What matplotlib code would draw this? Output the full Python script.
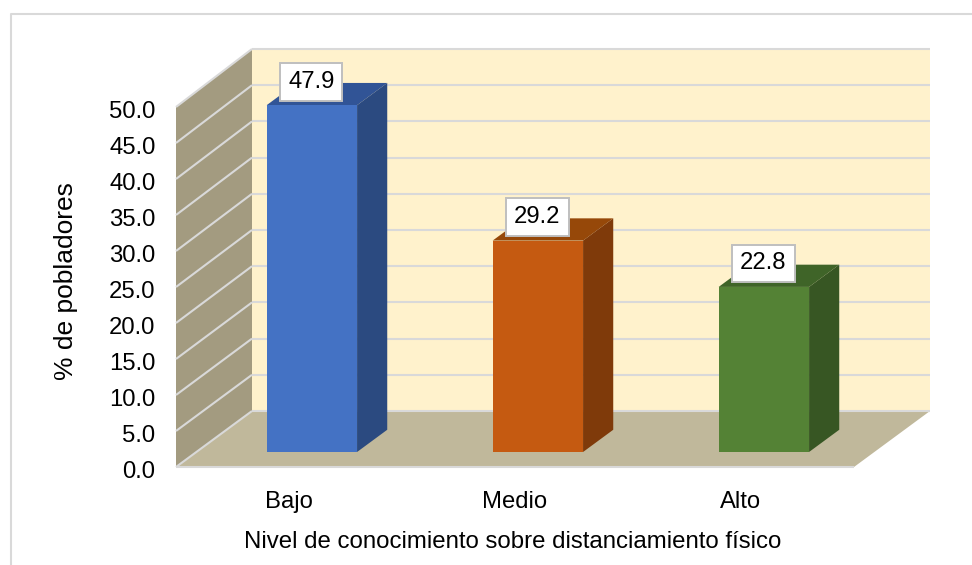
import matplotlib
matplotlib.use("Agg")
import matplotlib.pyplot as plt
from matplotlib.lines import Line2D
from matplotlib.patches import Polygon
from matplotlib.transforms import ScaledTranslation

plt.rcParams['font.family'] = ['Liberation Sans', 'DejaVu Sans']

categories = ["Bajo", "Medio", "Alto"]
values = [47.9, 29.2, 22.8]
front_colors = ["#4472C4", "#C55A11", "#548235"]
top_colors = ["#315496", "#964809", "#3F6428"]
side_colors = ["#2B4A80", "#7F3A0A", "#375623"]
y_ticks = [0, 5, 10, 15, 20, 25, 30, 35, 40, 45, 50]
y_labels = ["0.0", "5.0", "10.0", "15.0", "20.0", "25.0", "30.0", "35.0", "40.0", "45.0", "50.0"]
x_title = "Nivel de conocimiento sobre distanciamiento físico"
y_title = "% de pobladores"

W, H = 972, 565
FS = 17.2
fig = plt.figure(figsize=(W / 100, H / 100), dpi=100, facecolor="white")
ax = fig.add_axes([176 / W, 1 - 467 / H, 678 / W, 360 / H])
ax.set_xlim(0, 3)
ax.set_ylim(0, 50)
ax.patch.set_visible(False)
for s in ax.spines.values():
    s.set_visible(False)

PX_X = 678 / 3   # px per category
PX_Y = 360 / 50  # px per value unit
DX, DY = 76, 56  # px shift of the full depth
BAR_D0, BAR_D1 = 0.268, 0.665
BAR_W = 0.4
BAR_SHIFT = 2.5 / PX_X


def proj(x, v, d):
    """Oblique projection of (category x, value v, depth d) into data coordinates."""
    k = 1.0056 if d > 0 else 1.0
    return (x + d * DX / PX_X, v * k + d * DY / PX_Y)


def poly(pts, color, z, ec="none", lw=0):
    ax.add_patch(Polygon([proj(*p) for p in pts], closed=True, fc=color, ec=ec, lw=lw,
                         zorder=z, clip_on=False))


def line(a, b, z=2):
    p, q = proj(*a), proj(*b)
    ax.add_line(Line2D([p[0], q[0]], [p[1], q[1]], color="#D9D9D9", lw=1.5, zorder=z,
                       clip_on=False, solid_capstyle="butt"))


ymax = y_ticks[-1]
# walls and floor
poly([(0, 0, 1), (3, 0, 1), (3, ymax, 1), (0, ymax, 1)], "#FFF2CC", 1)
poly([(0, 0, 0), (0, 0, 1), (0, ymax, 1), (0, ymax, 0)], "#A39B80", 1)
poly([(0, 0, 0), (3, 0, 0), (3, 0, 1), (0, 0, 1)], "#C0B89B", 1.5)
for t in y_ticks:
    line((0, t, 0), (0, t, 1))
    line((0, t, 1), (3, t, 1))
line((0, 0, 0), (3, 0, 0))

# bars
for i, (val, fc, tc, sc) in enumerate(zip(values, front_colors, top_colors, side_colors)):
    c = i + 0.5 + BAR_SHIFT
    l, r = c - BAR_W / 2, c + BAR_W / 2
    poly([(l, val, BAR_D0), (r, val, BAR_D0), (r, val, BAR_D1), (l, val, BAR_D1)], tc, 3)
    poly([(r, 0, BAR_D0), (r, 0, BAR_D1), (r, val, BAR_D1), (r, val, BAR_D0)], sc, 3)
    poly([(l, 0, BAR_D0), (r, 0, BAR_D0), (r, val, BAR_D0), (l, val, BAR_D0)], fc, 4)
    ax.annotate(f"{val:.1f}", xy=proj(c, val, BAR_D0), xytext=(-0.5, 26),
                textcoords="offset pixels", ha="center", va="center_baseline",
                fontsize=FS, color="black", zorder=6, annotation_clip=False,
                bbox=dict(boxstyle="square,pad=0.33", fc="white", ec="#BFBFBF", lw=1.4))

ax.set_yticks(y_ticks, y_labels, fontsize=FS, color="black")
ax.set_xticks([i + 0.5 for i in range(len(categories))], categories, fontsize=FS, color="black")
ax.tick_params(axis="both", length=0)
ax.tick_params(axis="y", pad=14.8)
ax.tick_params(axis="x", pad=17)
shift_down = ScaledTranslation(0, -2.5 / 100, fig.dpi_scale_trans)
for t in ax.get_yticklabels():
    t.set_verticalalignment("center_baseline")
    t.set_transform(t.get_transform() + shift_down)

fig.text(513 / W, 1 - 542 / H, x_title, ha="center", va="center", fontsize=FS + 0.05, color="black")
fig.text(66 / W, 1 - 281 / H, y_title, ha="center", va="center", rotation=90, fontsize=19, color="black")

# chart frame
fig.add_artist(Line2D([11 / W, 11 / W, 1], [0, 1 - 14 / H, 1 - 14 / H], color="#D9D9D9", lw=1.5,
                      transform=fig.transFigure))

fig.savefig("out.png", dpi=100, facecolor="white")
